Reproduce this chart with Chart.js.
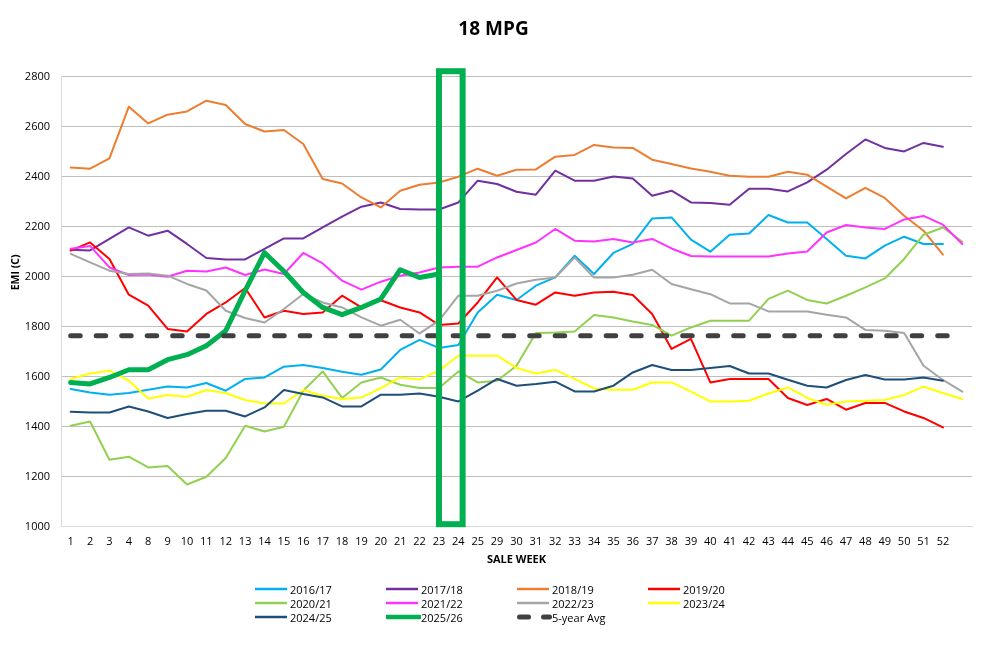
<!DOCTYPE html>
<html><head><meta charset="utf-8">
<script src="https://cdn.jsdelivr.net/npm/chart.js@4.4.1/dist/chart.umd.min.js"></script>
<style>
html,body{margin:0;padding:0;background:#fff;}
#wrap{position:relative;width:987px;height:648px;overflow:hidden;}
#legend{position:absolute;left:255px;top:582px;display:grid;grid-template-columns:repeat(4,131px);grid-auto-rows:14px;font:11px 'Open Sans',sans-serif;color:#000;}
.item{display:flex;align-items:center;white-space:nowrap;height:14px;}
.item svg{flex:0 0 35px;display:block;}
</style></head><body>
<div id="wrap"><canvas id="c" width="987" height="648"></canvas><div id="legend"></div></div>
<script>
const chartTitle = '18 MPG';
const yAxisTitle = 'EMI (C)';
const xAxisTitle = 'SALE WEEK';
const weeks = ['1','2','3','4','8','9','10','11','12','13','14','15','16','17','18','19','20','21','22','23','24','25','29','30','31','32','33','34','35','36','37','38','39','40','41','42','43','44','45','46','47','48','49','50','51','52',''];
const yTicks = {min: 1000, max: 2800, step: 200};
const highlightWeeks = ['23', '24'];
const highlightRange = [1010, 2822];

const s2016 = [1551,1537,1528,1535,1548,1561,1557,1575,1544,1591,1597,1640,1647,1635,1620,1608,1629,1707,1747,1715,1727,1857,1928,1907,1964,1997,2084,2011,2095,2131,2233,2237,2148,2100,2168,2173,2247,2217,2217,2151,2084,2073,2124,2160,2131,2131];
const s2017 = [2108,2105,2151,2197,2164,2184,2131,2075,2069,2069,2111,2153,2153,2197,2240,2280,2297,2271,2269,2269,2297,2384,2371,2340,2328,2424,2384,2384,2401,2393,2324,2344,2297,2295,2288,2352,2352,2341,2377,2428,2491,2549,2515,2501,2535,2520];
const s2018 = [2437,2432,2473,2680,2613,2648,2661,2704,2687,2611,2581,2587,2531,2391,2373,2317,2277,2344,2368,2377,2400,2432,2404,2428,2429,2480,2487,2527,2517,2515,2468,2451,2433,2420,2404,2400,2400,2420,2408,2360,2313,2355,2315,2244,2184,2088];
const s2019 = [2104,2137,2071,1928,1884,1791,1781,1851,1897,1955,1837,1864,1851,1857,1924,1877,1906,1877,1857,1807,1813,1897,1997,1907,1888,1937,1924,1937,1940,1927,1851,1711,1751,1577,1591,1591,1591,1515,1487,1511,1468,1495,1495,1461,1435,1397];
const s2020 = [1404,1421,1268,1280,1237,1243,1169,1200,1275,1404,1381,1400,1544,1621,1515,1577,1597,1568,1555,1555,1621,1577,1584,1644,1775,1777,1781,1847,1837,1821,1807,1764,1797,1824,1824,1824,1911,1944,1907,1893,1924,1957,1993,2071,2168,2197,2140];
const s2021 = [2112,2123,2037,2007,2009,2000,2024,2021,2037,2007,2029,2011,2095,2053,1984,1948,1980,2004,2017,2037,2040,2040,2077,2107,2137,2191,2144,2141,2151,2137,2151,2113,2083,2081,2081,2081,2081,2093,2101,2177,2207,2197,2191,2229,2243,2208,2131];
const s2022 = [2091,2057,2024,2011,2013,2004,1971,1945,1864,1835,1817,1871,1931,1897,1877,1837,1804,1828,1773,1824,1924,1924,1944,1973,1988,1997,2077,1997,1997,2008,2028,1971,1950,1930,1893,1893,1861,1861,1861,1848,1837,1787,1784,1775,1644,1587,1540];
const s2023 = [1591,1613,1624,1584,1513,1527,1520,1547,1535,1507,1493,1493,1547,1524,1511,1517,1554,1597,1589,1624,1684,1684,1684,1635,1613,1627,1591,1553,1548,1548,1577,1577,1540,1501,1501,1504,1533,1557,1515,1488,1501,1504,1507,1527,1560,1535,1511];
const s2024 = [1460,1457,1457,1481,1461,1435,1451,1464,1464,1441,1477,1547,1531,1517,1481,1481,1528,1528,1533,1520,1501,1544,1591,1564,1571,1580,1541,1541,1564,1617,1647,1627,1627,1635,1643,1613,1613,1588,1564,1557,1587,1607,1589,1589,1597,1584];
const s2025 = [1577,1571,1597,1628,1628,1668,1688,1724,1784,1944,2096,2022,1937,1877,1848,1877,1911,2028,1997,2011];
const sAvg = [1764,1764,1764,1764,1764,1764,1764,1764,1764,1764,1764,1764,1764,1764,1764,1764,1764,1764,1764,1764,1764,1764,1764,1764,1764,1764,1764,1764,1764,1764,1764,1764,1764,1764,1764,1764,1764,1764,1764,1764,1764,1764,1764,1764,1764,1764,1764];

const seriesDefs = [
  {label:'2016/17', data:s2016, color:'#00b0f0', width:2},
  {label:'2017/18', data:s2017, color:'#7030a0', width:2},
  {label:'2018/19', data:s2018, color:'#ed7d31', width:2},
  {label:'2019/20', data:s2019, color:'#ff0000', width:2},
  {label:'2020/21', data:s2020, color:'#92d050', width:2},
  {label:'2021/22', data:s2021, color:'#ff33ff', width:2},
  {label:'2022/23', data:s2022, color:'#a5a5a5', width:2},
  {label:'2023/24', data:s2023, color:'#ffff00', width:2},
  {label:'2024/25', data:s2024, color:'#1f4e79', width:2},
  {label:'2025/26', data:s2025, color:'#00b050', width:5},
  {label:'5-year Avg', data:sAvg, color:'#404040', width:5, dash:[9.5,16]}
];

const FONT = "'Open Sans', sans-serif";

const datasets = seriesDefs.map((s, i) => ({
  label: s.label,
  data: s.data,
  borderColor: s.color,
  backgroundColor: s.color,
  borderWidth: s.width,
  borderDash: s.dash || [],
  borderCapStyle: 'round',
  borderJoinStyle: 'round',
  pointRadius: 0,
  tension: 0,
  fill: false,
  order: seriesDefs.length - i
}));

const highlightPlugin = {
  id: 'highlight',
  afterDatasetsDraw(chart) {
    const x = chart.scales.x, y = chart.scales.y, ctx = chart.ctx;
    const i0 = weeks.indexOf(highlightWeeks[0]);
    const i1 = weeks.indexOf(highlightWeeks[1]);
    const step = x.getPixelForValue(1) - x.getPixelForValue(0);
    const left = x.getPixelForValue(i0);
    const right = x.getPixelForValue(i1) + step * 0.22;
    const top = y.getPixelForValue(highlightRange[1]);
    const bottom = y.getPixelForValue(highlightRange[0]);
    ctx.save();
    ctx.strokeStyle = '#00b050';
    ctx.lineWidth = 6;
    ctx.strokeRect(left, top, right - left, bottom - top);
    ctx.restore();
  }
};

const yTitlePlugin = {
  id: 'yTitle',
  afterDraw(chart) {
    const {ctx, chartArea} = chart;
    ctx.save();
    ctx.translate(16, chartArea.top + chartArea.height * 0.435);
    ctx.rotate(-Math.PI / 2);
    ctx.font = "bold 10.5px 'Open Sans'";
    ctx.fillStyle = '#000';
    ctx.textAlign = 'center';
    ctx.textBaseline = 'middle';
    ctx.fillText(yAxisTitle, 0, 0);
    ctx.restore();
  }
};

const chart = new Chart(document.getElementById('c'), {
  type: 'line',
  data: {labels: weeks, datasets},
  options: {
    responsive: false,
    animation: false,
    devicePixelRatio: 1,
    layout: {padding: {left: 0, right: 0, top: 0, bottom: 76.3}},
    plugins: {
      legend: {display: false},
      tooltip: {enabled: false},
      title: {
        display: true, text: chartTitle, color: '#000',
        font: {family: FONT, size: 19, weight: 'bold'},
        padding: {top: 18.3, bottom: 35.6}
      }
    },
    scales: {
      x: {
        type: 'category', offset: true,
        grid: {display: false, drawTicks: false},
        border: {display: true, color: '#d9d9d9', width: 1},
        ticks: {color: '#000', font: {family: FONT, size: 11}, maxRotation: 0, autoSkip: false, padding: 9},
        title: {display: true, text: xAxisTitle, color: '#000', font: {family: FONT, size: 11, weight: 'bold'}, padding: {top: 0, bottom: 5}},
        afterFit(s) { s.height = 45; }
      },
      y: {
        position: 'left', min: yTicks.min, max: yTicks.max,
        ticks: {stepSize: yTicks.step, color: '#000', font: {family: FONT, size: 11}, padding: 11, callback: (v) => String(v)},
        grid: {color: (c) => c.tick && c.tick.value === yTicks.min ? '#d9d9d9' : '#bfbfbf', lineWidth: 1, drawTicks: false},
        border: {display: true, color: '#d9d9d9', width: 1},
        afterFit(s) { s.width = 61; }
      },
      y2: {
        position: 'right', display: true,
        grid: {display: false, drawTicks: false},
        border: {display: false},
        ticks: {display: false},
        afterFit(s) { s.width = 15; }
      }
    }
  },
  plugins: [highlightPlugin, yTitlePlugin]
});

// HTML legend in a 4-column grid
const legendEl = document.getElementById('legend');
seriesDefs.forEach(s => {
  const item = document.createElement('div');
  item.className = 'item';
  let svg;
  if (s.dash) {
    svg = `<svg width="35" height="8"><rect x="0" y="1.5" width="14" height="5" rx="2.5" fill="${s.color}"/><rect x="24" y="1.5" width="11" height="5" rx="2.5" fill="${s.color}"/></svg>`;
  } else {
    const w = s.width > 3 ? 4.5 : 2.5;
    svg = `<svg width="35" height="8"><line x1="${w>3?1:0}" y1="4" x2="${w>3?34:32}" y2="4" stroke="${s.color}" stroke-width="${w}" stroke-linecap="${w>3?'round':'butt'}"/></svg>`;
  }
  item.innerHTML = svg + '<span></span>';
  item.querySelector('span').textContent = s.label;
  legendEl.appendChild(item);
});
</script>
</body></html>
